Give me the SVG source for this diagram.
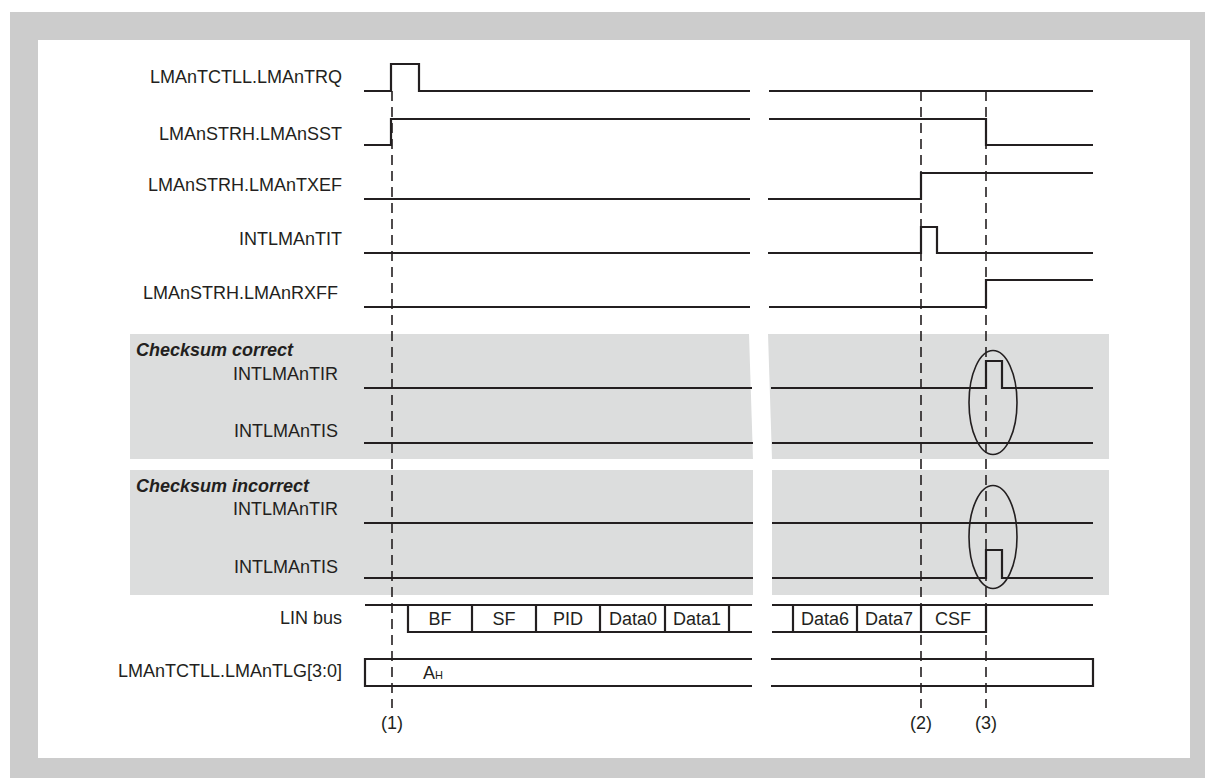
<svg xmlns="http://www.w3.org/2000/svg" width="1205" height="778" viewBox="0 0 1205 778">
<style>
.lbl{font-family:"Liberation Sans",Arial,sans-serif;font-size:18px;fill:#231f20;text-anchor:end}
.ttl{font-family:"Liberation Sans",Arial,sans-serif;font-size:18px;font-weight:bold;font-style:italic;fill:#231f20}
.cell{font-family:"Liberation Sans",Arial,sans-serif;font-size:18px;fill:#231f20;text-anchor:middle}
.sig{fill:none;stroke:#231f20;stroke-width:2.2;stroke-linejoin:miter}
.dash{fill:none;stroke:#231f20;stroke-width:1.6;stroke-dasharray:10 6}
.oval{fill:none;stroke:#231f20;stroke-width:1.6}
.panel{fill:#dcdddd}
</style>
<rect x="10" y="12" width="1195" height="766" fill="#cccccc"/>
<rect x="38" y="40" width="1152" height="718" fill="#ffffff"/>

<g id="panel-correct">
<polygon class="panel" points="130,334 749,334 753,459 130,459"/>
<polygon class="panel" points="768,334 1109,334 1109,459 772,459"/>
<text class="ttl" x="136" y="356">Checksum correct</text>
</g>
<g id="panel-incorrect">
<rect class="panel" x="130" y="470" width="623" height="125"/>
<rect class="panel" x="772" y="470" width="337" height="125"/>
<text class="ttl" x="136" y="492">Checksum incorrect</text>
</g>

<g id="sig-trq">
<text class="lbl" x="342" y="83">LMAnTCTLL.LMAnTRQ</text>
<polyline class="sig" points="364,91 391,91 391,64 419,64 419,91 750,91"/>
<polyline class="sig" points="769,91 1093,91"/>
</g>
<g id="sig-sst">
<text class="lbl" x="342" y="140">LMAnSTRH.LMAnSST</text>
<polyline class="sig" points="364,145 391,145 391,119 750,119"/>
<polyline class="sig" points="769,119 986,119 986,145 1093,145"/>
</g>
<g id="sig-txef">
<text class="lbl" x="342" y="191">LMAnSTRH.LMAnTXEF</text>
<polyline class="sig" points="364,199 750,199"/>
<polyline class="sig" points="768,199 921,199 921,173 1093,173"/>
</g>
<g id="sig-tit">
<text class="lbl" x="342" y="245">INTLMAnTIT</text>
<polyline class="sig" points="364,253 750,253"/>
<polyline class="sig" points="768,253 921,253 921,227 937,227 937,253 1093,253"/>
</g>
<g id="sig-rxff">
<text class="lbl" x="338" y="299">LMAnSTRH.LMAnRXFF</text>
<polyline class="sig" points="364,307 750,307"/>
<polyline class="sig" points="769,307 986,307 986,280 1093,280"/>
</g>

<g id="sig-tir-correct">
<text class="lbl" x="338" y="380">INTLMAnTIR</text>
<polyline class="sig" points="364,388 752,388"/>
<polyline class="sig" points="771,388 986,388 986,361 1002,361 1002,388 1093,388"/>
</g>
<g id="sig-tis-correct">
<text class="lbl" x="338" y="437">INTLMAnTIS</text>
<polyline class="sig" points="364,443 753,443"/>
<polyline class="sig" points="772,443 1093,443"/>
</g>
<g id="sig-tir-incorrect">
<text class="lbl" x="338" y="515">INTLMAnTIR</text>
<polyline class="sig" points="364,523 753,523"/>
<polyline class="sig" points="772,523 1093,523"/>
</g>
<g id="sig-tis-incorrect">
<text class="lbl" x="338" y="573">INTLMAnTIS</text>
<polyline class="sig" points="364,578 753,578"/>
<polyline class="sig" points="772,578 986,578 986,550 1002,550 1002,578 1093,578"/>
</g>

<g id="lin-bus">
<text class="lbl" x="342" y="624">LIN bus</text>
<polyline class="sig" points="365,605 752,605"/>
<polyline class="sig" points="752,632 408,632 408,605"/>
<line class="sig" x1="472" y1="605" x2="472" y2="632"/>
<line class="sig" x1="536" y1="605" x2="536" y2="632"/>
<line class="sig" x1="600" y1="605" x2="600" y2="632"/>
<line class="sig" x1="665" y1="605" x2="665" y2="632"/>
<line class="sig" x1="729" y1="605" x2="729" y2="632"/>
<text class="cell" x="440" y="625">BF</text>
<text class="cell" x="504" y="625">SF</text>
<text class="cell" x="568" y="625">PID</text>
<text class="cell" x="633" y="625">Data0</text>
<text class="cell" x="697" y="625">Data1</text>
<polyline class="sig" points="772,605 1093,605"/>
<polyline class="sig" points="772,632 986,632 986,605"/>
<line class="sig" x1="793" y1="605" x2="793" y2="632"/>
<line class="sig" x1="857" y1="605" x2="857" y2="632"/>
<line class="sig" x1="921" y1="605" x2="921" y2="632"/>
<text class="cell" x="825" y="625">Data6</text>
<text class="cell" x="889" y="625">Data7</text>
<text class="cell" x="953" y="625">CSF</text>
</g>

<g id="sig-tlg">
<text class="lbl" x="342" y="677">LMAnTCTLL.LMAnTLG[3:0]</text>
<polyline class="sig" points="752,659 365,659 365,686 752,686"/>
<polyline class="sig" points="771,659 1093,659 1093,686 771,686"/>
<text x="423" y="679" style="font-family:'Liberation Sans',Arial,sans-serif;font-size:18px;fill:#231f20">A<tspan style="font-size:11px">H</tspan></text>
</g>

<g id="connectors">
<line class="dash" x1="392" y1="91" x2="392" y2="708"/>
<line class="dash" x1="921" y1="91" x2="921" y2="708"/>
<line class="dash" x1="986" y1="91" x2="986" y2="708"/>
<ellipse class="oval" cx="993" cy="402.5" rx="24" ry="52"/>
<ellipse class="oval" cx="993" cy="537" rx="24" ry="51.5"/>
</g>

<g id="markers">
<text class="cell" x="392" y="729">(1)</text>
<text class="cell" x="921" y="729">(2)</text>
<text class="cell" x="986" y="729">(3)</text>
</g>
</svg>
